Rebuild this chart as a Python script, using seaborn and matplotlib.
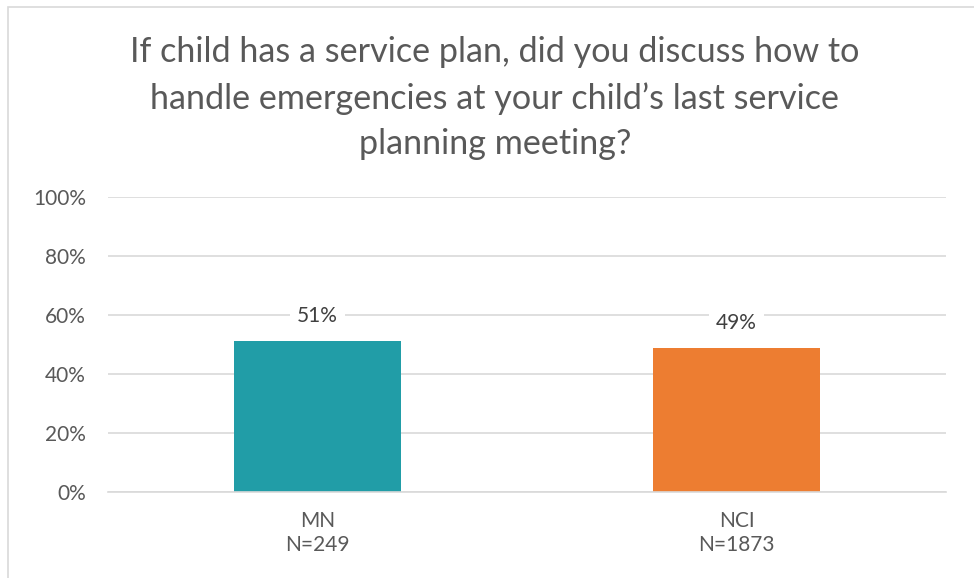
import pandas as pd
import seaborn as sns
import matplotlib.pyplot as plt
from matplotlib.patches import Rectangle

# Data
groups = ['MN\nN=249', 'NCI\nN=1873']
shares = [0.512, 0.489]
labels = ['51%', '49%']
colors = ['#219DA7', '#ED7D31']
title = ("If child has a service plan, did you discuss how to\n"
         "handle emergencies at your child\u2019s last service\n"
         "planning meeting?")

df = pd.DataFrame({'group': groups, 'share': shares})

sns.set_style('white')
plt.rcParams['font.family'] = ['Lato', 'DejaVu Sans']

fig = plt.figure(figsize=(9.74, 5.78), dpi=100)
ax = fig.add_axes([108 / 974, 86 / 578, 838 / 974, 295 / 578])

# chart frame
fig.patches.append(Rectangle((8 / 974, -0.1), 1.2, 1.1 - 7 / 578,
                             transform=fig.transFigure, fill=False,
                             edgecolor='#D9D9D9', linewidth=1.2))

sns.barplot(data=df, x='group', y='share', hue='group', palette=colors,
            width=0.4, saturation=1, linewidth=0, legend=False, ax=ax,
            zorder=2)

ax.set_ylim(0, 1)
ax.set_xlim(-0.5, 1.5)
ax.set_yticks([0, 0.2, 0.4, 0.6, 0.8, 1.0])
ax.set_yticklabels(['0%', '20%', '40%', '60%', '80%', '100%'])
ax.yaxis.grid(True, color='#D9D9D9', linewidth=1.2, zorder=0)
ax.set_axisbelow(True)
for s in ['top', 'right', 'left']:
    ax.spines[s].set_visible(False)
ax.spines['bottom'].set_color('#D9D9D9')
ax.spines['bottom'].set_linewidth(1.2)
ax.tick_params(axis='both', length=0, labelsize=15, labelcolor='#595959')
ax.tick_params(axis='y', pad=16)
ax.tick_params(axis='x', pad=14)
ax.set_xlabel('')
ax.set_ylabel('')

for i, (v, t) in enumerate(zip(shares, labels)):
    ax.text(i, v + 0.085, t, ha='center', va='center', fontsize=15,
            color='#404040', zorder=3,
            bbox=dict(facecolor='white', edgecolor='none', pad=5))

fig.text(495 / 974, 1 - 98 / 578, title, ha='center', va='center',
         fontsize=24.6, color='#595959', linespacing=1.5)

fig.savefig('out.png', dpi=100)
